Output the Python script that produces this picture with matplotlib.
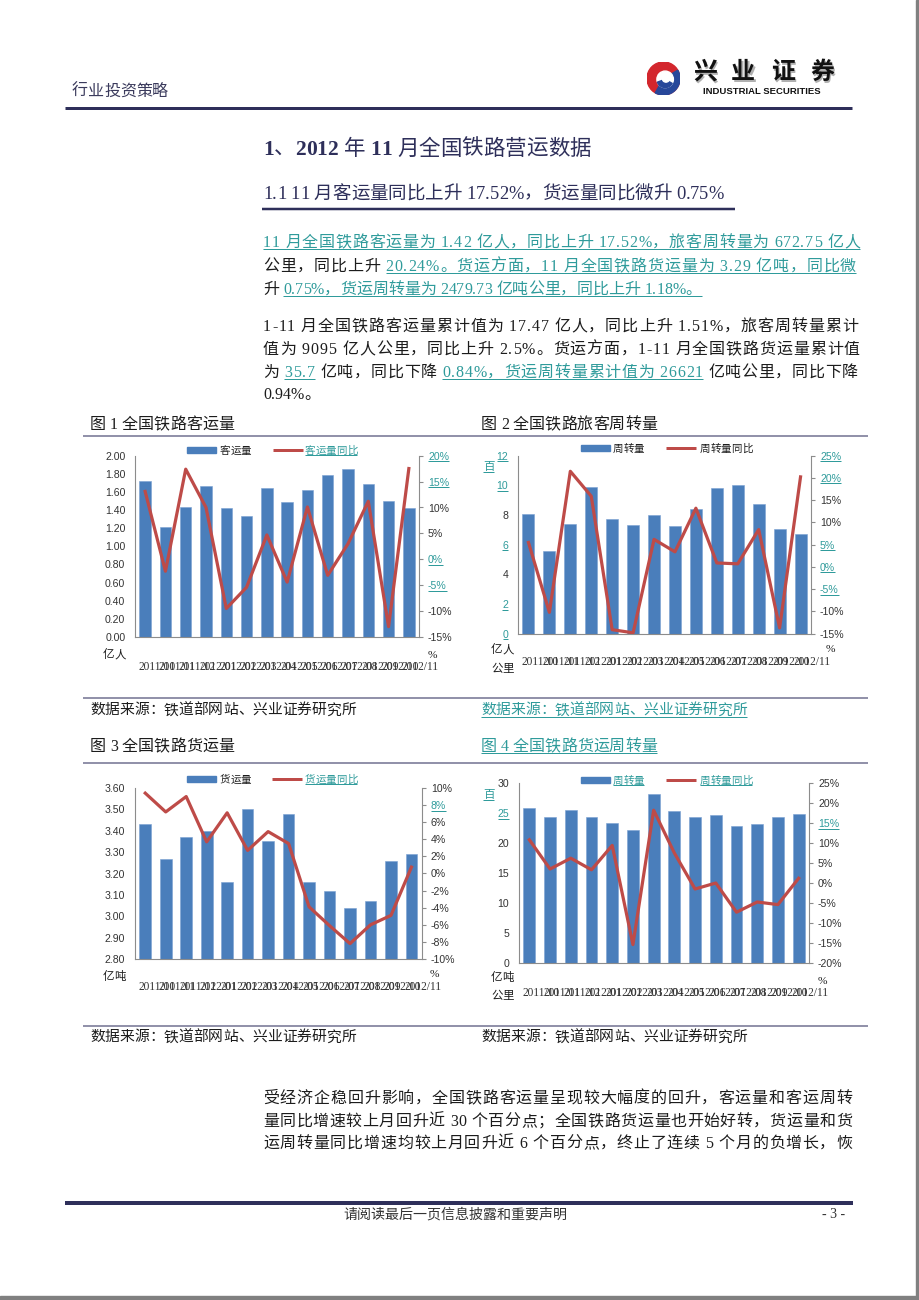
import matplotlib
matplotlib.use('Agg')
import matplotlib.pyplot as plt
import matplotlib.transforms as mtransforms
from matplotlib.patches import Rectangle, Circle, Wedge
from matplotlib.lines import Line2D
from matplotlib.ft2font import FT2Font
from matplotlib.font_manager import findfont, FontProperties

W, H = 920, 1300
SERIF = 'Liberation Serif'
SANS = 'Liberation Sans'
CJK = 'Noto Sans CJK SC'
TEAL = '#2f9b9b'
NAVY = '#2e2f5a'
BLACK = '#1c1c1c'
BLUE = '#4a7ebb'
RED = '#be4b48'

# ---- data ----
months = ['2011/10', '2011/11', '2011/12', '2012/01', '2012/02', '2012/03', '2012/04',
          '2012/05', '2012/06', '2012/07', '2012/08', '2012/09', '2012/10', '2012/11']

passengers = [1.72, 1.21, 1.43, 1.67, 1.42, 1.34, 1.64, 1.49, 1.62, 1.79, 1.85, 1.69, 1.50, 1.42]
passengers_yoy = [13.1, -2.3, 17.4, 10.0, -9.5, -5.4, 4.7, -4.4, 10.1, -3.1, 3.0, 11.2, -13.0, 17.52]

pkm = [8.04, 5.6, 7.39, 9.89, 7.73, 7.30, 7.98, 7.26, 8.40, 9.84, 10.0, 8.74, 7.03, 6.73]
pkm_yoy = [5.5, -10.2, 21.5, 15.9, -14.1, -14.8, 6.2, 3.4, 13.2, 0.9, 0.7, 8.4, -13.7, 20.24]

freight = [3.43, 3.27, 3.37, 3.40, 3.16, 3.50, 3.35, 3.48, 3.16, 3.12, 3.04, 3.07, 3.26, 3.29]
freight_yoy = [9.4, 7.2, 9.0, 3.7, 7.1, 2.7, 4.9, 3.5, -3.9, -6.1, -8.2, -6.0, -4.9, 0.75]

tkm = [25.8, 24.3, 25.5, 24.4, 23.4, 22.2, 28.2, 25.4, 24.4, 24.6, 22.8, 23.1, 24.3, 24.8]
tkm_yoy = [10.8, 3.5, 6.2, 3.3, 9.4, -15.4, 18.2, 7.5, -1.5, 0.0, -7.3, -4.75, -5.4, 1.18]

fig = plt.figure(figsize=(9.2, 13), dpi=100)

f_serif = FT2Font(findfont(FontProperties(family=SERIF)))
f_serif_b = FT2Font(findfont(FontProperties(family=SERIF, weight='bold')))
f_cjk = FT2Font(findfont(FontProperties(family=CJK)))


def adv(ch, px, bold=False):
    f = f_serif_b if bold else f_serif
    if f.get_char_index(ord(ch)) == 0:
        f = f_cjk
    f.set_size(px * 0.72, 100)
    g = f.load_char(ord(ch))
    return g.linearHoriAdvance / 65536


def hline(x0, x1, y, color, lw):
    fig.add_artist(Line2D([x0 / W, x1 / W], [1 - y / H, 1 - y / H], transform=fig.transFigure,
                          color=color, lw=lw * 0.72, solid_capstyle='butt'))


def text_line(x0, y, segs, px, x1=None):
    # place a line char by char so it can be justified and partly underlined
    items = []
    for seg in segs:
        bold = seg[3] if len(seg) > 3 else False
        for ch in seg[0]:
            items.append((ch, seg[1], seg[2], bold))
    widths = [adv(it[0], px, it[3]) for it in items]
    gap = 0.0
    if x1 is not None and len(items) > 1:
        gap = (x1 - x0 - sum(widths)) / (len(items) - 1)
    base = y + 0.36 * px
    x = x0
    run = None
    for (ch, color, ul, bold), w in zip(items, widths):
        if ch != ' ':
            fig.text(x / W, 1 - base / H, ch, fontsize=px * 0.72, color=color, family=[SERIF, CJK],
                     fontweight='bold' if bold else 'normal', ha='left', va='baseline')
        if ul:
            if run is None:
                run = [x, x + w, color]
            else:
                run[1] = x + w
        else:
            if run:
                hline(run[0], run[1], base + 0.16 * px, run[2], 1)
            run = None
        x += w + gap
    if run:
        hline(run[0], run[1], base + 0.16 * px, run[2], 1)


under = []


def chart(box, bars, yoy, ylim, yticks, yfmt, rlim, rticks, xpad, teal_left=(), teal_right=()):
    l, r, t, b = box
    ax = fig.add_axes([l / W, 1 - b / H, (r - l) / W, (b - t) / H])
    x = list(range(len(months)))
    ax.bar(x, bars, width=0.57, color=BLUE, edgecolor='#79a0d2', linewidth=0.4)
    ax.set_xlim(-0.5, len(months) - 0.5)
    ax.set_ylim(*ylim)
    ax.set_yticks(yticks, labels=[yfmt % v for v in yticks])
    ax.set_xticks(x, labels=months)
    ax.tick_params(axis='y', length=0, pad=7, labelsize=7.6, labelcolor='#333333')
    ax.tick_params(axis='x', length=0, pad=xpad, labelsize=8.3, labelcolor='#333333')
    shift = mtransforms.ScaledTranslation(-0.07, 0, fig.dpi_scale_trans)
    for lab in ax.get_xticklabels():
        lab.set_family(SERIF)
        lab.set_horizontalalignment('left')
        lab.set_transform(lab.get_transform() + shift)
    for lab in ax.get_yticklabels():
        lab.set_family(SANS)
        if lab.get_text() in teal_left:
            lab.set_color(TEAL)
            under.append(lab)
    ax.spines['top'].set_visible(False)
    ax.spines['right'].set_visible(False)
    for s in ('left', 'bottom'):
        ax.spines[s].set_color('#8c8c8c')

    ax2 = ax.twinx()
    ax2.plot(x, yoy, color=RED, lw=2.3)
    ax2.set_ylim(*rlim)
    ax2.set_yticks(rticks, labels=['%d%%' % v for v in rticks])
    ax2.tick_params(axis='y', length=3, width=0.8, color='#8c8c8c', pad=3.5, labelsize=7.6,
                    labelcolor='#333333')
    for lab in ax2.get_yticklabels():
        lab.set_family(SANS)
        if lab.get_text() in teal_right:
            lab.set_color(TEAL)
            under.append(lab)
    for s in ('top', 'left', 'bottom'):
        ax2.spines[s].set_visible(False)
    ax2.spines['right'].set_color('#8c8c8c')
    return ax, ax2


def legend(y, px0, tx0, lx0, ltx0, bar_label, line_label, teal_bar, teal_line):
    fig.add_artist(Rectangle((px0 / W, 1 - (y + 3) / H), 29 / W, 6 / H, transform=fig.transFigure,
                             color=BLUE))
    text_line(tx0, y, [(bar_label, TEAL if teal_bar else BLACK, teal_bar)], 10.5)
    hline(lx0, lx0 + 30, y, RED, 3)
    text_line(ltx0, y, [(line_label, TEAL if teal_line else BLACK, teal_line)], 10.5)


# ---- page header ----
text_line(72, 90, [('行业投资策略', '#3a3a5c', False)], 16)
hline(65, 852, 108, NAVY, 3)

lax = fig.add_axes([647 / W, 1 - 95 / H, 33 / W, 33 / H])
lax.set_xlim(-1, 1)
lax.set_ylim(-1, 1)
lax.set_aspect('equal')
lax.axis('off')
lax.add_patch(Circle((0, 0), 1, color='#d3262d'))
lax.add_patch(Wedge((0, 0), 1, -120, 30, color='#27479a'))
lax.add_patch(Circle((0.1, -0.05), 0.5, color='white'))
lax.add_patch(Wedge((0.1, -0.05), 0.5, 200, 330, color='#27479a'))
lax.add_patch(Circle((0.15, 0.0), 0.22, color='white'))

for ch, cx in zip('兴业证券', [705, 743, 783, 822]):
    fig.text((cx + 1.5) / W, 1 - 73.5 / H, ch, fontsize=24 * 0.72, family=CJK, fontweight='bold',
             color='#b0b0b0', ha='center', va='center')
    fig.text(cx / W, 1 - 72 / H, ch, fontsize=24 * 0.72, family=CJK, fontweight='bold',
             color='#111111', ha='center', va='center')
fig.text(762 / W, 1 - 91 / H, 'INDUSTRIAL SECURITIES', fontsize=9.5 * 0.72, family=SANS,
         fontweight='bold', color='#111111', ha='center', va='center')

# ---- headings ----
text_line(263, 147, [('1', NAVY, False, True), ('、', NAVY, False), ('2012', NAVY, False, True),
                     (' 年 ', NAVY, False), ('11', NAVY, False, True), (' 月全国铁路营运数据', NAVY, False)], 21.5)
text_line(263, 192, [('1.1 11 月客运量同比上升 17.52%，货运量同比微升 0.75%', NAVY, False)], 18.5)
hline(262, 735, 209, NAVY, 2.5)

# ---- paragraphs ----
BODY = 16
text_line(263, 241, [('11 月全国铁路客运量为 1.42 亿人，同比上升 17.52%，旅客周转量为 672.75 亿人', TEAL, True)], BODY, 860)
text_line(263, 265, [('公里，同比上升 ', BLACK, False),
                     ('20.24%。货运方面，11 月全国铁路货运量为 3.29 亿吨，同比微', TEAL, True)], BODY, 856)
text_line(263, 288, [('升 ', BLACK, False), ('0.75%，货运周转量为 2479.73 亿吨公里，同比上升 1.18%。', TEAL, True)], BODY)

text_line(263, 325, [('1-11 月全国铁路客运量累计值为 17.47 亿人，同比上升 1.51%，旅客周转量累计', BLACK, False)], BODY, 858)
text_line(263, 348, [('值为 9095 亿人公里，同比上升 2.5%。货运方面，1-11 月全国铁路货运量累计值', BLACK, False)], BODY, 860)
text_line(263, 371, [('为 ', BLACK, False), ('35.7', TEAL, True), (' 亿吨，同比下降 ', BLACK, False),
                     ('0.84%，货运周转量累计值为 26621', TEAL, True), (' 亿吨公里，同比下降', BLACK, False)], BODY, 858)
text_line(263, 393, [('0.94%。', BLACK, False)], BODY)

# ---- chart frames, titles and sources ----
for x0, x1, y_t, y_s in [(83, 470, 436, 698), (470, 868, 436, 698), (83, 470, 763, 1026), (470, 868, 763, 1026)]:
    hline(x0, x1, y_t, '#6e6e8e', 1.5)
    hline(x0, x1, y_s, '#6e6e8e', 1.5)

text_line(90, 423, [('图 1 全国铁路客运量', BLACK, False)], 16)
text_line(481, 423, [('图 2 全国铁路旅客周转量', BLACK, False)], 16)
text_line(90, 745, [('图 3 全国铁路货运量', BLACK, False)], 16)
text_line(481, 745, [('图 4 全国铁路货运周转量', TEAL, True)], 16)

SRC = '数据来源：铁道部网站、兴业证券研究所'
text_line(90, 709, [(SRC, BLACK, False)], 14.8)
text_line(481, 709, [(SRC, TEAL, True)], 14.8)
text_line(90, 1036, [(SRC, BLACK, False)], 14.8)
text_line(481, 1036, [(SRC, BLACK, False)], 14.8)

# ---- charts ----
chart((135, 419, 455.7, 637), passengers, passengers_yoy, (0, 2), [i * 0.2 for i in range(11)], '%.2f',
      (-15, 20), list(range(-15, 21, 5)), 17.3, teal_right=('20%', '15%', '0%', '-5%'))
legend(450, 187, 220, 273, 305, '客运量', '客运量同比', False, True)
text_line(103, 654, [('亿人', BLACK, False)], 11.5)
text_line(428, 654, [('%', BLACK, False)], 11.5)

chart((518, 811, 455.7, 633.7), pkm, pkm_yoy, (0, 12), list(range(0, 13, 2)), '%d',
      (-15, 25), list(range(-15, 26, 5)), 16,
      teal_left=('12', '10', '6', '2', '0'), teal_right=('25%', '20%', '5%', '0%', '-5%'))
legend(448, 581, 613, 666, 700, '周转量', '周转量同比', False, False)
text_line(483, 466, [('百', TEAL, True)], 11.5)
text_line(491, 649, [('亿人', BLACK, False)], 11.5)
text_line(491, 668, [('公里', BLACK, False)], 11.5)
text_line(826, 648, [('%', BLACK, False)], 11.5)

chart((135, 421.7, 788, 959), freight, freight_yoy, (2.8, 3.6), [2.8 + i * 0.1 for i in range(9)], '%.2f',
      (-10, 10), list(range(-10, 11, 2)), 15.8, teal_right=('8%',))
legend(779, 187, 220, 272, 305, '货运量', '货运量同比', False, True)
text_line(103, 976, [('亿吨', BLACK, False)], 11.5)
text_line(430, 973, [('%', BLACK, False)], 11.5)

chart((519, 809, 783, 963), tkm, tkm_yoy, (0, 30), list(range(0, 31, 5)), '%d',
      (-20, 25), list(range(-20, 26, 5)), 17.3, teal_left=('25',), teal_right=('15%',))
legend(780, 581, 613, 666, 700, '周转量', '周转量同比', True, True)
text_line(483, 794, [('百', TEAL, True)], 11.5)
text_line(491, 977, [('亿吨', BLACK, False)], 11.5)
text_line(491, 995, [('公里', BLACK, False)], 11.5)
text_line(818, 980, [('%', BLACK, False)], 11.5)

# ---- closing paragraph ----
text_line(263, 1097, [('受经济企稳回升影响，全国铁路客运量呈现较大幅度的回升，客运量和客运周转', BLACK, False)], BODY, 852)
text_line(263, 1120, [('量同比增速较上月回升近 30 个百分点；全国铁路货运量也开始好转，货运量和货', BLACK, False)], BODY, 852)
text_line(263, 1142, [('运周转量同比增速均较上月回升近 6 个百分点，终止了连续 5 个月的负增长，恢', BLACK, False)], BODY, 852)

# ---- footer ----
hline(65, 853, 1203, NAVY, 4)
fig.text(455 / W, 1 - 1215 / H, '请阅读最后一页信息披露和重要声明', fontsize=14 * 0.72, family=CJK,
         color='#333333', ha='center', va='center')
fig.text(834 / W, 1 - 1215 / H, '- 3 -', fontsize=14 * 0.72, family=SERIF, color='#333333',
         ha='center', va='center')

fig.add_artist(Rectangle((916 / W, 0), 4 / W, 1, transform=fig.transFigure, color='#808080'))
fig.add_artist(Rectangle((0, 0), 1, 4 / H, transform=fig.transFigure, color='#808080'))

# underline the teal tick labels once their positions are known
fig.canvas.draw()
rend = fig.canvas.get_renderer()
for lab in under:
    bb = lab.get_window_extent(rend)
    hline(bb.x0, bb.x1, H - bb.y0 - 0.5, TEAL, 1)

fig.savefig('out.png', dpi=100)
